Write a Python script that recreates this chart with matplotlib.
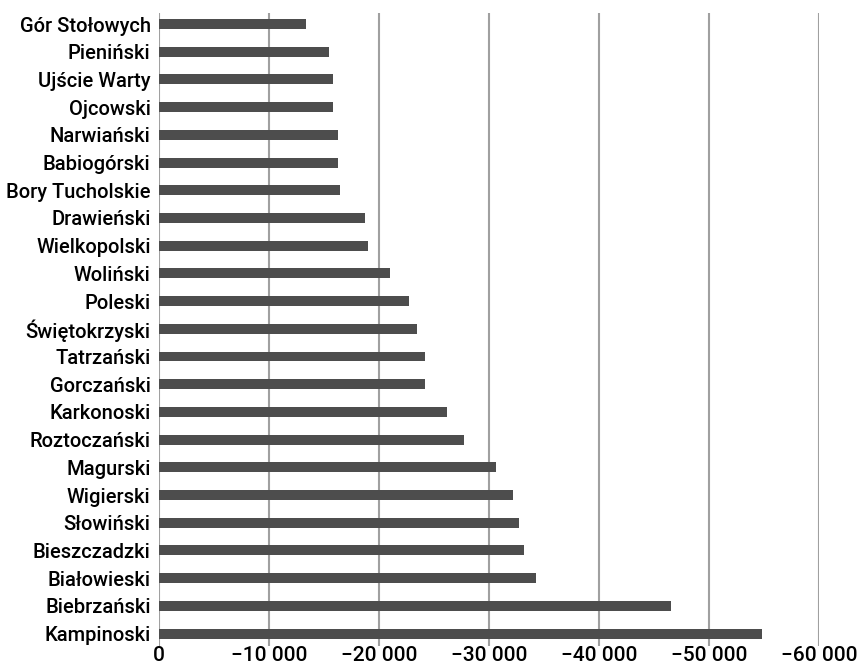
import matplotlib.pyplot as plt
from matplotlib.ticker import FuncFormatter

plt.rcParams['font.family'] = ['Roboto', 'DejaVu Sans']

# parki narodowe i zmiana (wartosci ujemne)
parki = ["Gór Stołowych", "Pieniński", "Ujście Warty", "Ojcowski", "Narwiański",
         "Babiogórski", "Bory Tucholskie", "Drawieński", "Wielkopolski", "Woliński",
         "Poleski", "Świętokrzyski", "Tatrzański", "Gorczański", "Karkonoski",
         "Roztoczański", "Magurski", "Wigierski", "Słowiński", "Bieszczadzki",
         "Białowieski", "Biebrzański", "Kampinoski"]
wartosci = [-13340, -15480, -15790, -15820, -16240, -16270, -16480, -18700, -19000,
            -21000, -22760, -23480, -24180, -24180, -26210, -27760, -30600, -32150,
            -32730, -33210, -34300, -46500, -54790]
ticki = [0, -10000, -20000, -30000, -40000, -50000, -60000]

fig = plt.figure(figsize=(8.6, 6.68), dpi=100)
ax = fig.add_axes([159/860, 1 - 646/668, (819 - 159)/860, (646 - 13)/668])

y = range(len(parki))
ax.barh(y, wartosci, height=0.36, color="#4d4d4d", zorder=3)

ax.set_xlim(0, -60000)
ax.set_ylim(len(parki) - 0.55, -0.4)
ax.set_xticks(ticki)
ax.xaxis.set_major_formatter(FuncFormatter(
    lambda v, p: "0" if v == 0 else "\u2212" + f"{abs(int(v)):,}".replace(",", " ")))
ax.set_yticks(list(y))
ax.set_yticklabels(parki)

ax.grid(axis="x", color="#a0a0a0", linewidth=1.5, zorder=0)
for s in ["top", "right", "bottom", "left"]:
    ax.spines[s].set_visible(False)
ax.tick_params(axis="both", length=0, colors="black")
ax.tick_params(axis="y", pad=6, labelsize=14.5)
ax.tick_params(axis="x", pad=0, labelsize=15)
for t in ax.get_xticklabels() + ax.get_yticklabels():
    t.set_fontweight("medium")

fig.savefig("out.png", dpi=100)
